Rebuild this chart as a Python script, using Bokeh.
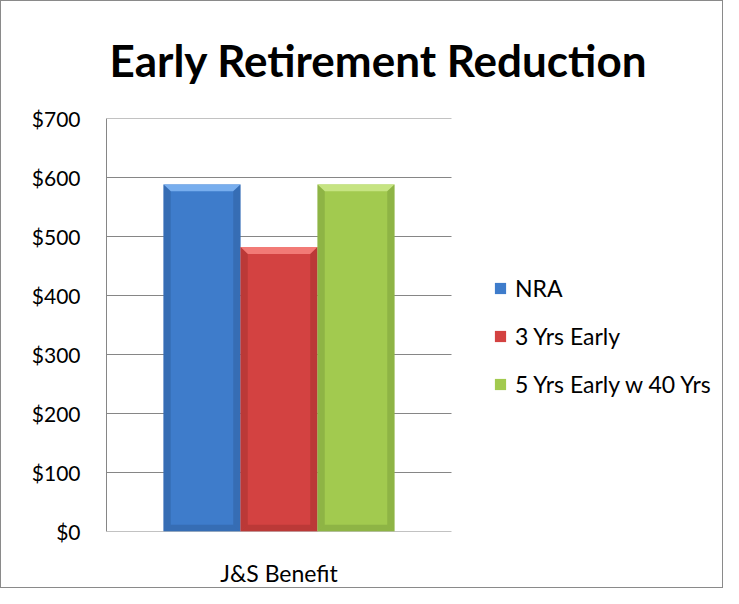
from bokeh.plotting import figure
from bokeh.models import (ColumnDataSource, Legend, LegendItem, FixedTicker,
                          NumeralTickFormatter)
from bokeh.embed import file_html
from bokeh.resources import INLINE

# ---- data ----
categories = ["J&S Benefit"]
series = ["NRA", "3 Yrs Early", "5 Yrs Early w 40 Yrs"]
values = [588, 482, 588]
y_ticks = [0, 100, 200, 300, 400, 500, 600, 700]
title_text = "Early Retirement Reduction"

# ---- styles ----
body = ["#3E7CCB", "#D34241", "#A2CA4F"]
light = ["#78AEEE", "#F27A76", "#C6E482"]
dark = ["#2D5C9A", "#9E2F2D", "#76993A"]
FONT = "Lato"
W, H = 723, 588
LEFT, TOP, BOTTOM, RIGHT_PAD = 105, 117, 48, 5
PLOT_W = 345  # pixel width of the category area

bar_w = 0.2232
offsets = [-bar_w, 0.0, bar_w]
bx = 0.021   # bevel size in x data units
by = 11.5    # bevel size in y data units

x_end = (W - LEFT - RIGHT_PAD) / PLOT_W * len(categories)

p = figure(width=W, height=H, x_range=(0, x_end), y_range=(0, 700),
           output_backend="svg", toolbar_location=None, title=title_text,
           min_border_left=LEFT, min_border_right=RIGHT_PAD, min_border_top=TOP,
           min_border_bottom=BOTTOM)
p.styles = {"border": "1px solid #8a8a8a", "box-sizing": "border-box"}
p.outline_line_color = None
p.background_fill_color = "white"
p.border_fill_color = "white"

p.title.text_font = FONT
p.title.text_font_style = "bold"
p.title.text_font_size = "44px"
p.title.text_color = "black"
p.title.align = "left"
p.title.vertical_align = "top"
p.title.offset = 3
p.title.standoff = 62

# horizontal gridlines across the category area only
p.segment(x0=[0] * len(y_ticks), x1=[len(categories)] * len(y_ticks),
          y0=y_ticks, y1=y_ticks, line_color="#868686", line_width=1)

items = []
for ci, cat in enumerate(categories):
    for i, s in enumerate(series):
        v = values[i]
        xc = ci + 0.5 + offsets[i]
        x0, x1 = xc - bar_w / 2, xc + bar_w / 2
        src = ColumnDataSource(dict(left=[x0], right=[x1], top=[v], bottom=[0]))
        r = p.quad(left="left", right="right", top="top", bottom="bottom",
                   source=src, fill_color=body[i], line_color=None)
        items.append(LegendItem(label=s, renderers=[r]))
        # bevel faces derived from the value
        top_xs = [x0, x1, x1 - bx, x0 + bx]
        top_ys = [v, v, v - by, v - by]
        left_xs = [x0, x0, x0 + bx, x0 + bx]
        left_ys = [0, v, v - by, by]
        right_xs = [x1, x1, x1 - bx, x1 - bx]
        right_ys = [0, v, v - by, by]
        bot_xs = [x0, x1, x1 - bx, x0 + bx]
        bot_ys = [0, 0, by, by]
        p.patches(xs=[top_xs], ys=[top_ys], fill_color=light[i], line_color=None)
        p.patches(xs=[left_xs, right_xs, bot_xs], ys=[left_ys, right_ys, bot_ys],
                  fill_color=dark[i], fill_alpha=0.45, line_color=None)

legend = Legend(items=items, location=(387, 133), orientation="vertical")
legend.label_text_font = FONT
legend.label_text_font_size = "23px"
legend.label_text_color = "black"
legend.glyph_width = 14
legend.glyph_height = 14
legend.label_height = 22
legend.label_standoff = 8
legend.spacing = 20
legend.padding = 0
legend.margin = 0
legend.border_line_color = None
legend.background_fill_alpha = 0
p.add_layout(legend, "center")

# y axis
p.yaxis.ticker = FixedTicker(ticks=y_ticks)
p.yaxis.formatter = NumeralTickFormatter(format="$0")
p.yaxis.major_label_text_font = FONT
p.yaxis.major_label_text_font_size = "21px"
p.yaxis.major_label_text_color = "black"
p.yaxis.major_tick_out = 0
p.yaxis.major_tick_in = 0
p.yaxis.minor_tick_out = 0
p.yaxis.minor_tick_in = 0
p.yaxis.axis_line_color = "#868686"
p.yaxis.major_label_standoff = 26

# x axis
p.xaxis.ticker = FixedTicker(ticks=[ci + 0.5 for ci in range(len(categories))])
p.xaxis.major_label_overrides = {ci + 0.5: c for ci, c in enumerate(categories)}
p.xaxis.major_label_text_font = FONT
p.xaxis.major_label_text_font_size = "23px"
p.xaxis.major_label_text_color = "black"
p.xaxis.major_tick_out = 0
p.xaxis.major_tick_in = 0
p.xaxis.minor_tick_out = 0
p.xaxis.minor_tick_in = 0
p.xaxis.axis_line_color = None
p.xaxis.major_label_standoff = 27

p.xgrid.grid_line_color = None
p.ygrid.grid_line_color = None

open("out.html", "w").write(file_html(p, INLINE))
